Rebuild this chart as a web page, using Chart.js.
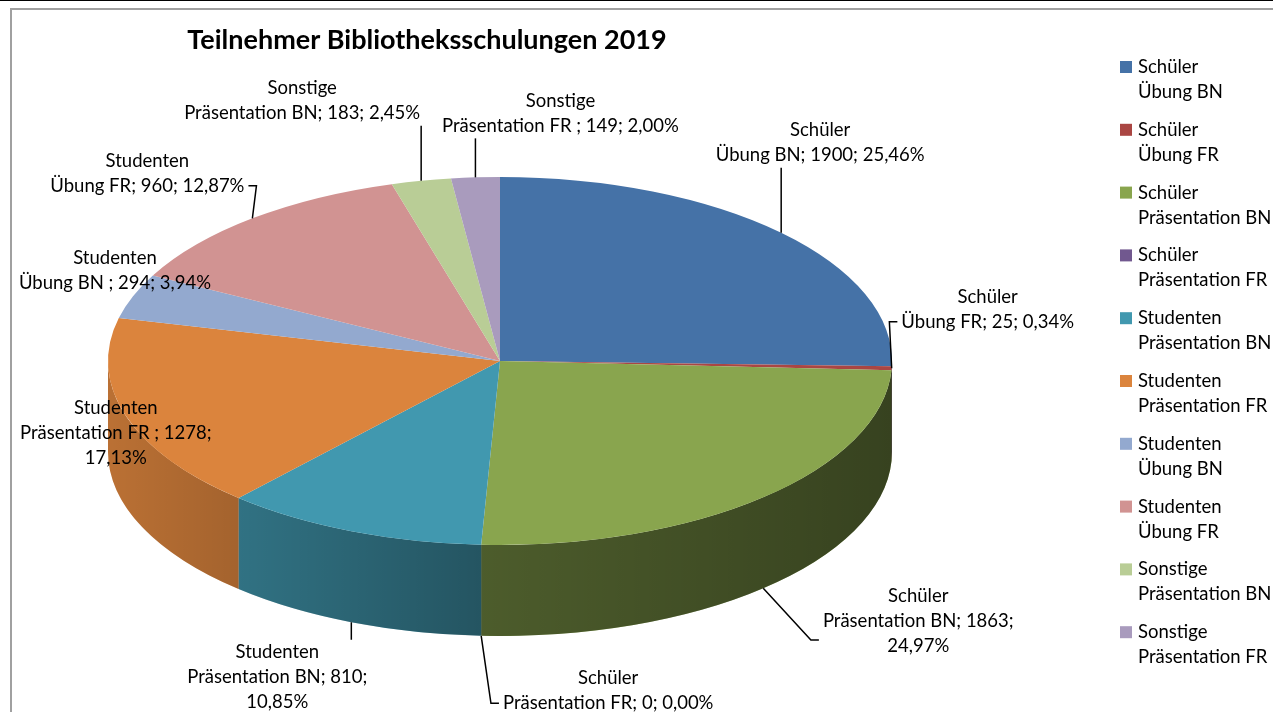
<!DOCTYPE html>
<html>
<head>
<meta charset="utf-8">
<script src="https://cdn.jsdelivr.net/npm/chart.js@4.4.1/dist/chart.umd.min.js"></script>
<style>
  html, body { margin: 0; padding: 0; background: #ffffff; }
  #wrap { position: relative; width: 1273px; height: 712px; }
</style>
</head>
<body>
<div id="wrap"><canvas id="myChartPie"></canvas></div>
<script>
// Data block
const groups = ["Schüler", "Schüler", "Schüler", "Schüler", "Studenten", "Studenten", "Studenten", "Studenten", "Sonstige", "Sonstige"];
const kinds = ["Übung BN", "Übung FR", "Präsentation BN", "Präsentation FR", "Präsentation BN", "Präsentation FR ", "Übung BN ", "Übung FR", "Präsentation BN", "Präsentation FR "];
const participants = [1900, 25, 1863, 0, 810, 1278, 294, 960, 183, 149];
const sliceColors = ["#4572A7", "#AA4643", "#89A54E", "#71588F", "#4198AF", "#DB843D", "#93A9CF", "#D19392", "#B9CD96", "#A99BBD"];

// layout of the 3d pie and of the data labels
const CX = 500, CY = 361, RX = 392, RY = 184, DEPTH = 91;
const labelOffset = [[39, -90], [96, -59], [155, 33], [127, 55], [-74, 55], [-10, -74], [-18, -26], [-105, -45], [-119, -80], [85, -64]];
const labelBreak = [false, false, true, false, true, true, false, false, false, false];
const labelLeader = [true, true, true, true, true, false, false, true, true, true];
const FONT = "Lato, 'Open Sans', sans-serif";

function getPieChart() {
  const total = participants.reduce((a, b) => a + b, 0);

  const pie3d = {
    id: "pie3d",
    beforeDraw(chart) {
      const ctx = chart.ctx;
      ctx.save();
      ctx.fillStyle = "#000000";
      ctx.fillRect(0, 0, chart.width, 1);
      ctx.fillStyle = "#a0a0a0";
      ctx.fillRect(10, 8, chart.width - 10, 2);
      ctx.fillRect(10, 8, 2, chart.height - 8);
      ctx.restore();
    },
    beforeDatasetsDraw(chart) {
      const ctx = chart.ctx;
      const arcs = chart.getDatasetMeta(0).data;
      // side wall
      ctx.save();
      arcs.forEach((arc, i) => {
        const a1 = Math.max(arc.startAngle, 0);
        const a2 = Math.min(arc.endAngle, Math.PI);
        if (a2 <= a1) return;
        ctx.beginPath();
        ctx.ellipse(CX, CY, RX, RY, 0, a1, a2);
        ctx.lineTo(CX + RX * Math.cos(a2), CY + RY * Math.sin(a2) + DEPTH);
        ctx.ellipse(CX, CY + DEPTH, RX, RY, 0, a2, a1, true);
        ctx.closePath();
        ctx.fillStyle = sliceColors[i];
        ctx.fill();
      });
      const g = ctx.createLinearGradient(CX - RX, 0, CX + RX, 0);
      g.addColorStop(0, "rgba(0,0,0,0.15)");
      g.addColorStop(0.47, "rgba(0,0,0,0.44)");
      g.addColorStop(1, "rgba(0,0,0,0.6)");
      ctx.beginPath();
      ctx.ellipse(CX, CY, RX, RY, 0, 0, Math.PI);
      ctx.ellipse(CX, CY + DEPTH, RX, RY, 0, Math.PI, 0, true);
      ctx.closePath();
      ctx.fillStyle = g;
      ctx.fill();
      ctx.restore();
      // squash the pie top into an ellipse
      const a = arcs[0];
      ctx.save();
      ctx.translate(CX, CY);
      ctx.scale(RX / a.outerRadius, RY / a.outerRadius);
      ctx.translate(-a.x, -a.y);
    },
    afterDatasetsDraw(chart) {
      chart.ctx.restore();
    },
    afterDraw(chart) {
      const ctx = chart.ctx;
      const arcs = chart.getDatasetMeta(0).data;
      ctx.save();
      // title
      ctx.fillStyle = "#000000";
      ctx.font = "bold 27px " + FONT;
      ctx.textAlign = "center";
      ctx.textBaseline = "middle";
      ctx.fillText("Teilnehmer Bibliotheksschulungen 2019", 427, 40);

      // data labels
      ctx.font = "18.5px " + FONT;
      ctx.strokeStyle = "#000000";
      ctx.lineWidth = 1.5;
      arcs.forEach((arc, i) => {
        const mid = (arc.startAngle + arc.endAngle) / 2;
        let ax = CX + RX * Math.cos(mid);
        let ay = CY + RY * Math.sin(mid);
        if (Math.sin(mid) > 0.2) ay += DEPTH;
        const pct = (participants[i] / total * 100).toFixed(2).replace(".", ",");
        const lines = [groups[i]];
        if (labelBreak[i]) {
          lines.push(kinds[i] + "; " + participants[i] + ";");
          lines.push(pct + "%");
        } else {
          lines.push(kinds[i] + "; " + participants[i] + "; " + pct + "%");
        }
        const lx = ax + labelOffset[i][0];
        const ly = ay + labelOffset[i][1];
        const h = lines.length * 25;
        const w = Math.max(...lines.map((t) => ctx.measureText(t).width));
        lines.forEach((t, k) => {
          ctx.fillText(t, lx, ly + (k - (lines.length - 1) / 2) * 25);
        });
        if (!labelLeader[i]) return;
        const left = lx - w / 2 - 4, right = lx + w / 2 + 4;
        const top = ly - h / 2, bottom = ly + h / 2;
        ctx.beginPath();
        ctx.moveTo(ax, ay);
        if (ax < left || ax > right) {
          const sx = ax < left ? left : right;
          const ty = ly + h / 4;
          const tick = ax < left ? -8 : 8;
          ctx.lineTo(sx + tick, ty);
          ctx.lineTo(sx, ty);
        } else if (ay > bottom) {
          ctx.lineTo(ax, bottom);
        } else if (ay < top) {
          ctx.lineTo(ax, top);
        }
        ctx.stroke();
      });

      // legend
      ctx.textAlign = "left";
      chart.data.labels.forEach((lab, i) => {
        const y0 = 67 + i * 62.8;
        ctx.fillStyle = sliceColors[i];
        ctx.fillRect(1120, y0 - 6, 12, 12);
        ctx.fillStyle = "#000000";
        ctx.fillText(groups[i], 1138, y0);
        ctx.fillText(kinds[i].trim(), 1138, y0 + 25);
      });
      ctx.restore();
    },
  };

  const config = {
    type: "pie",
    data: {
      labels: groups.map((g, i) => g + " " + kinds[i].trim()),
      datasets: [
        {
          data: participants,
          backgroundColor: sliceColors,
          borderWidth: 0,
          clip: false,
        },
      ],
    },
    plugins: [pie3d],
    options: {
      responsive: true,
      maintainAspectRatio: false,
      animation: false,
      events: [],
      layout: { padding: 40 },
      plugins: {
        legend: { display: false },
        tooltip: { enabled: false },
        title: { display: false },
      },
    },
  };

  const myChart = new Chart(document.getElementById("myChartPie"), config);
}

getPieChart();
</script>
</body>
</html>
